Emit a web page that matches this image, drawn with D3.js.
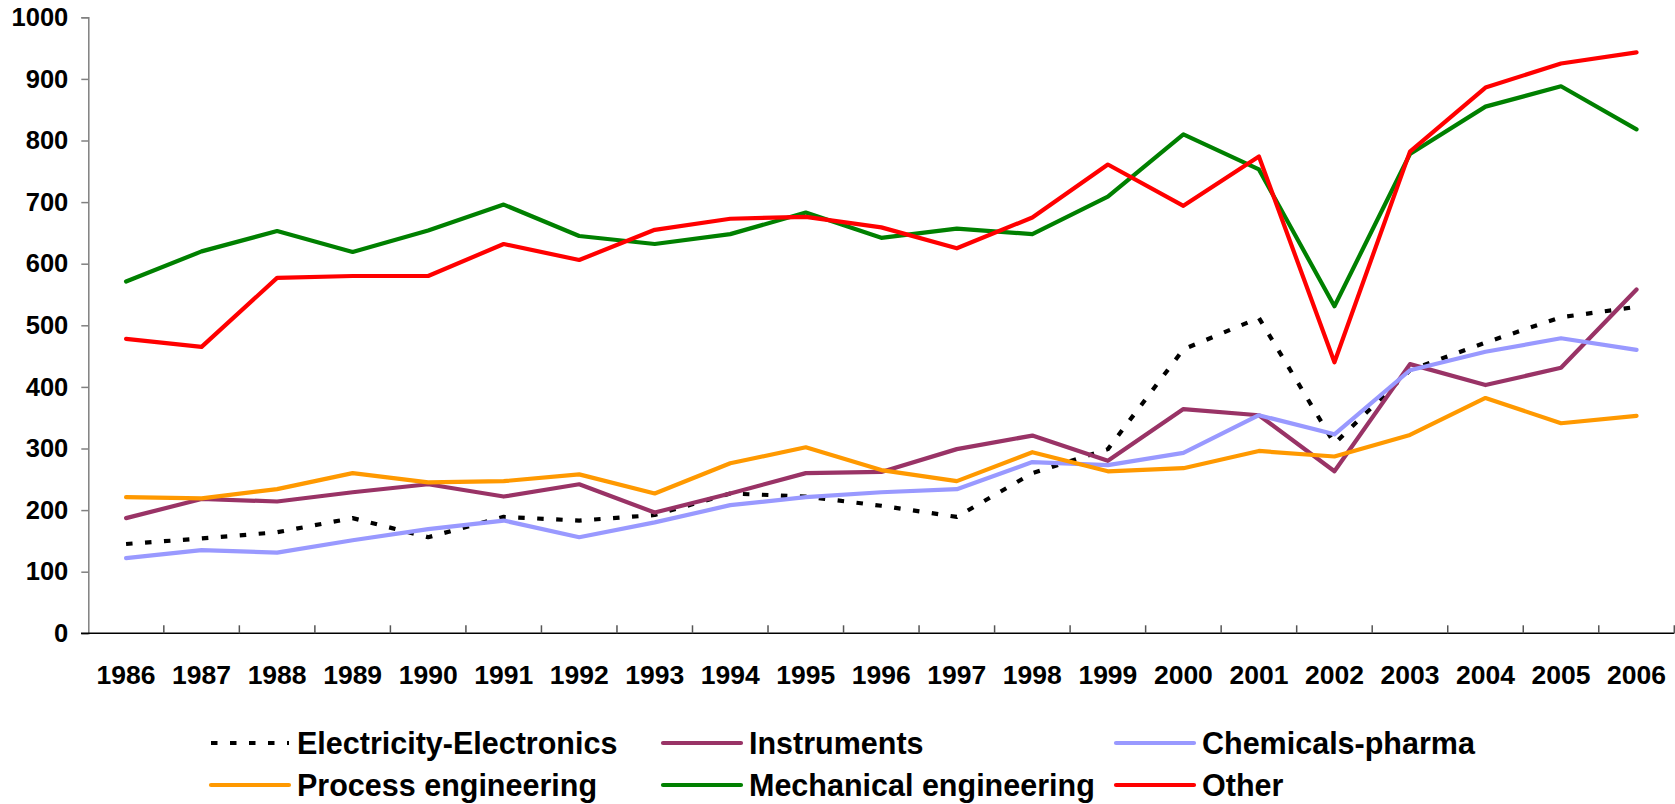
<!DOCTYPE html>
<html lang="en">
<head>
<meta charset="utf-8">
<title>Patents by field, 1986-2006</title>
<script src="https://d3js.org/d3.v7.min.js"></script>
<style>
body { margin: 0; background: #fff; }
text { font-family: "Liberation Sans", Arial, sans-serif; font-weight: bold; fill: #000; }
</style>
</head>
<body>
<div id="chart"></div>
<script>
// data
var years = ["1986","1987","1988","1989","1990","1991","1992","1993","1994","1995","1996",
             "1997","1998","1999","2000","2001","2002","2003","2004","2005","2006"];

var elec    = [145,154,164,187,156,189,183,192,227,222,207,189,260,299,461,512,308,427,472,513,530];
var instr   = [187,218,214,229,242,222,242,196,227,260,262,299,321,280,364,354,263,437,403,431,558];
var chem    = [122,135,131,151,169,183,156,180,208,221,229,234,278,273,293,354,323,427,457,479,460];
var process = [221,219,234,260,245,247,258,227,276,302,265,247,294,263,268,296,287,322,382,341,353];
var mech    = [571,620,653,619,654,696,645,632,648,683,642,657,648,709,810,753,531,778,855,888,818];
var other   = [478,465,577,580,580,632,606,655,673,676,659,625,675,761,694,774,440,782,886,925,943];

var yTicks = [0,100,200,300,400,500,600,700,800,900,1000];

var series = [
    {name: "Electricity-Electronics", values: elec,    color: "#000000", dash: "6.5,12.5"},
    {name: "Instruments",             values: instr,   color: "#993366"},
    {name: "Chemicals-pharma",        values: chem,    color: "#9999FF"},
    {name: "Process engineering",     values: process, color: "#FF9900"},
    {name: "Mechanical engineering",  values: mech,    color: "#008000"},
    {name: "Other",                   values: other,   color: "#FF0000"}
];

var width = 1675;
var height = 804;

const svg = d3.select("#chart")
    .append("svg")
    .attr("width", width)
    .attr("height", height);

var x = d3.scaleBand().domain(years).range([88.3, 1674.3]).padding(0);
var y = d3.scaleLinear().domain([0, 1000]).range([633.3, 17.3]);

function cx(d) { return x(d) + x.bandwidth() / 2; }

// y axis
var yAxis = svg.append("g")
    .attr("transform", "translate(88.3,0)")
    .call(d3.axisLeft(y).tickValues(yTicks).tickSize(7).tickPadding(13).tickFormat(d3.format("d")));
yAxis.select(".domain").attr("stroke", "#808080").attr("stroke-width", 1.5);
yAxis.selectAll(".tick line").attr("stroke", "#808080").attr("stroke-width", 1.5);
yAxis.selectAll("text").style("font-size", "25.5px").attr("fill", "#000");

// x axis, ticks pointing up between categories
var xg = svg.append("g");
xg.append("line")
    .attr("x1", 81).attr("x2", 1674.3)
    .attr("y1", y(0)).attr("y2", y(0))
    .attr("stroke", "#000").attr("stroke-width", 1.5);
xg.selectAll(".xtick")
    .data(years)
    .enter().append("line")
    .attr("x1", d => x(d) + x.bandwidth()).attr("x2", d => x(d) + x.bandwidth())
    .attr("y1", y(0) - 8).attr("y2", y(0))
    .attr("stroke", "#555").attr("stroke-width", 1.5);
xg.selectAll(".xlab")
    .data(years)
    .enter().append("text")
    .attr("x", cx)
    .attr("y", 684)
    .attr("text-anchor", "middle")
    .style("font-size", "26.5px")
    .text(d => d);

// lines
var line = d3.line()
    .x((d, i) => cx(years[i]))
    .y(d => y(d));

series.forEach(function(s) {
    svg.append("path")
        .datum(s.values)
        .attr("d", line)
        .attr("fill", "none")
        .attr("stroke", s.color)
        .attr("stroke-width", 4.2)
        .attr("stroke-linejoin", "round")
        .attr("stroke-linecap", s.dash ? "butt" : "round")
        .attr("stroke-dasharray", s.dash || null);
});

// legend, 3 columns x 2 rows
var colX = [211, 663, 1116];
var rowY = [743, 785];
var leg = svg.append("g");
series.forEach(function(s, i) {
    var lx = colX[i % 3];
    var ly = rowY[Math.floor(i / 3)];
    leg.append("line")
        .attr("x1", lx).attr("x2", lx + 78)
        .attr("y1", ly).attr("y2", ly)
        .attr("stroke", s.color)
        .attr("stroke-width", 4.2)
        .attr("stroke-linecap", s.dash ? "butt" : "round")
        .attr("stroke-dasharray", s.dash ? "6.5,12.5" : null);
    leg.append("text")
        .attr("x", lx + 86)
        .attr("y", ly + 10.5)
        .style("font-size", "30.5px")
        .text(s.name);
});
</script>
</body>
</html>
